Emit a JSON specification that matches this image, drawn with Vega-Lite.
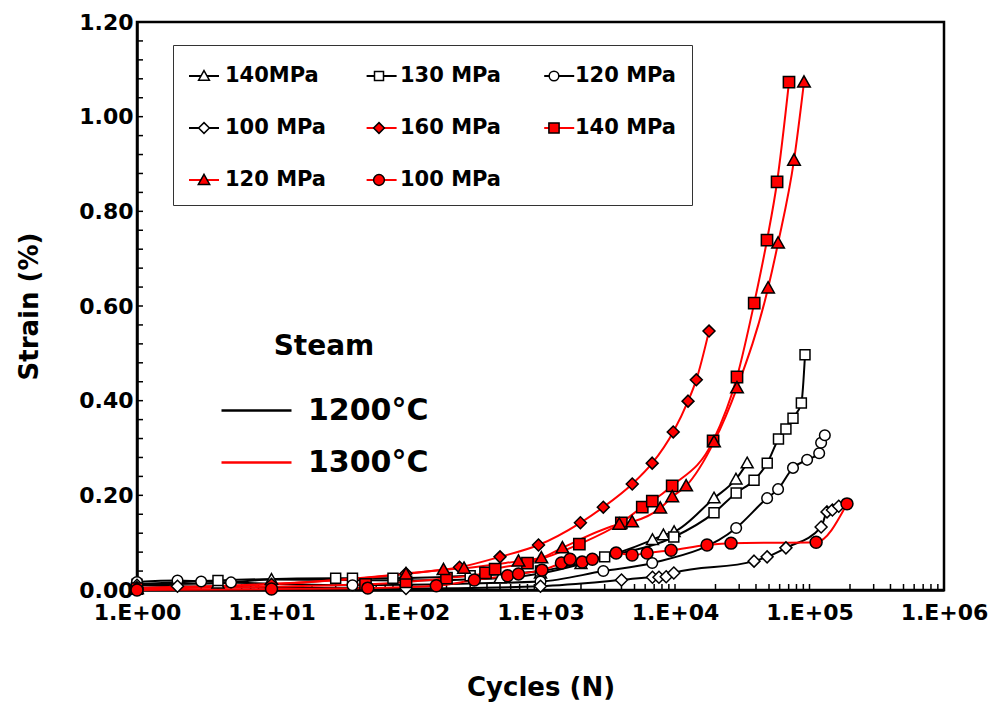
{
  "$schema": "https://vega.github.io/schema/vega-lite/v6.json",
  "width": 807,
  "height": 568,
  "autosize": {"type": "none"},
  "padding": {"left": 137, "top": 22, "right": 48, "bottom": 118},
  "background": "white",
  "config": {
    "view": {"stroke": "black", "strokeWidth": 2.5},
    "axis": {"domainColor": "black", "domainWidth": 2.5, "ticks": false, "grid": false, "labelFont": "DejaVu Sans", "labelFontWeight": "bold", "labelFontSize": 22, "labelColor": "black", "titleFont": "DejaVu Sans", "titleFontWeight": "bold", "titleFontSize": 26, "titleColor": "black", "labelOverlap": false, "labelFlush": false},
    "legend": {"labelFont": "DejaVu Sans", "labelFontWeight": "bold", "labelColor": "black", "titleFont": "DejaVu Sans", "titleFontWeight": "bold", "titleColor": "black"}
  },
  "datasets": {
    "xticks": [{"tick": 1},{"tick": 2},{"tick": 3},{"tick": 4},{"tick": 5},{"tick": 6},{"tick": 7},{"tick": 8},{"tick": 9},{"tick": 10},{"tick": 20},{"tick": 30},{"tick": 40},{"tick": 50},{"tick": 60},{"tick": 70},{"tick": 80},{"tick": 90},{"tick": 100},{"tick": 200},{"tick": 300},{"tick": 400},{"tick": 500},{"tick": 600},{"tick": 700},{"tick": 800},{"tick": 900},{"tick": 1000},{"tick": 2000},{"tick": 3000},{"tick": 4000},{"tick": 5000},{"tick": 6000},{"tick": 7000},{"tick": 8000},{"tick": 9000},{"tick": 10000},{"tick": 20000},{"tick": 30000},{"tick": 40000},{"tick": 50000},{"tick": 60000},{"tick": 70000},{"tick": 80000},{"tick": 90000},{"tick": 100000},{"tick": 200000},{"tick": 300000},{"tick": 400000},{"tick": 500000},{"tick": 600000},{"tick": 700000},{"tick": 800000},{"tick": 900000},{"tick": 1000000}],
    "yticks": [{"tick": 0},{"tick": 0.04},{"tick": 0.08},{"tick": 0.12},{"tick": 0.16},{"tick": 0.2},{"tick": 0.24},{"tick": 0.28},{"tick": 0.32},{"tick": 0.36},{"tick": 0.4},{"tick": 0.44},{"tick": 0.48},{"tick": 0.52},{"tick": 0.56},{"tick": 0.6},{"tick": 0.64},{"tick": 0.68},{"tick": 0.72},{"tick": 0.76},{"tick": 0.8},{"tick": 0.84},{"tick": 0.88},{"tick": 0.92},{"tick": 0.96},{"tick": 1},{"tick": 1.04},{"tick": 1.08},{"tick": 1.12},{"tick": 1.16},{"tick": 1.2}],
    "curves": [
    {"series": "k1", "temp": "1200°C", "cycles": 1, "strain": 0.012},
    {"series": "k1", "temp": "1200°C", "cycles": 4, "strain": 0.014},
    {"series": "k1", "temp": "1200°C", "cycles": 10, "strain": 0.022},
    {"series": "k1", "temp": "1200°C", "cycles": 100, "strain": 0.02},
    {"series": "k1", "temp": "1200°C", "cycles": 500, "strain": 0.025},
    {"series": "k1", "temp": "1200°C", "cycles": 1000, "strain": 0.035},
    {"series": "k1", "temp": "1200°C", "cycles": 2000, "strain": 0.055},
    {"series": "k1", "temp": "1200°C", "cycles": 6800, "strain": 0.106},
    {"series": "k1", "temp": "1200°C", "cycles": 8200, "strain": 0.116},
    {"series": "k1", "temp": "1200°C", "cycles": 9850, "strain": 0.123},
    {"series": "k1", "temp": "1200°C", "cycles": 19500, "strain": 0.194},
    {"series": "k1", "temp": "1200°C", "cycles": 28400, "strain": 0.234},
    {"series": "k1", "temp": "1200°C", "cycles": 34400, "strain": 0.268},
    {"series": "k2", "temp": "1200°C", "cycles": 1, "strain": 0.012},
    {"series": "k2", "temp": "1200°C", "cycles": 4, "strain": 0.02},
    {"series": "k2", "temp": "1200°C", "cycles": 30, "strain": 0.025},
    {"series": "k2", "temp": "1200°C", "cycles": 40, "strain": 0.025},
    {"series": "k2", "temp": "1200°C", "cycles": 80, "strain": 0.025},
    {"series": "k2", "temp": "1200°C", "cycles": 300, "strain": 0.03},
    {"series": "k2", "temp": "1200°C", "cycles": 1000, "strain": 0.04},
    {"series": "k2", "temp": "1200°C", "cycles": 3000, "strain": 0.07},
    {"series": "k2", "temp": "1200°C", "cycles": 9800, "strain": 0.112},
    {"series": "k2", "temp": "1200°C", "cycles": 19500, "strain": 0.163},
    {"series": "k2", "temp": "1200°C", "cycles": 28500, "strain": 0.205},
    {"series": "k2", "temp": "1200°C", "cycles": 38700, "strain": 0.232},
    {"series": "k2", "temp": "1200°C", "cycles": 48500, "strain": 0.268},
    {"series": "k2", "temp": "1200°C", "cycles": 58800, "strain": 0.319},
    {"series": "k2", "temp": "1200°C", "cycles": 66800, "strain": 0.34},
    {"series": "k2", "temp": "1200°C", "cycles": 75400, "strain": 0.363},
    {"series": "k2", "temp": "1200°C", "cycles": 87000, "strain": 0.395},
    {"series": "k2", "temp": "1200°C", "cycles": 92600, "strain": 0.497},
    {"series": "k3", "temp": "1200°C", "cycles": 1, "strain": 0.017},
    {"series": "k3", "temp": "1200°C", "cycles": 2, "strain": 0.02},
    {"series": "k3", "temp": "1200°C", "cycles": 3, "strain": 0.018},
    {"series": "k3", "temp": "1200°C", "cycles": 5, "strain": 0.016},
    {"series": "k3", "temp": "1200°C", "cycles": 40, "strain": 0.01},
    {"series": "k3", "temp": "1200°C", "cycles": 1000, "strain": 0.018},
    {"series": "k3", "temp": "1200°C", "cycles": 2930, "strain": 0.04},
    {"series": "k3", "temp": "1200°C", "cycles": 6770, "strain": 0.057},
    {"series": "k3", "temp": "1200°C", "cycles": 28500, "strain": 0.131},
    {"series": "k3", "temp": "1200°C", "cycles": 48400, "strain": 0.194},
    {"series": "k3", "temp": "1200°C", "cycles": 58400, "strain": 0.213},
    {"series": "k3", "temp": "1200°C", "cycles": 75400, "strain": 0.258},
    {"series": "k3", "temp": "1200°C", "cycles": 96000, "strain": 0.275},
    {"series": "k3", "temp": "1200°C", "cycles": 118000, "strain": 0.289},
    {"series": "k3", "temp": "1200°C", "cycles": 122000, "strain": 0.311},
    {"series": "k3", "temp": "1200°C", "cycles": 130000, "strain": 0.327},
    {"series": "k4", "temp": "1200°C", "cycles": 1, "strain": 0.01},
    {"series": "k4", "temp": "1200°C", "cycles": 2, "strain": 0.008},
    {"series": "k4", "temp": "1200°C", "cycles": 10, "strain": 0.005},
    {"series": "k4", "temp": "1200°C", "cycles": 100, "strain": 0.003},
    {"series": "k4", "temp": "1200°C", "cycles": 1000, "strain": 0.008},
    {"series": "k4", "temp": "1200°C", "cycles": 4000, "strain": 0.021},
    {"series": "k4", "temp": "1200°C", "cycles": 6800, "strain": 0.027},
    {"series": "k4", "temp": "1200°C", "cycles": 7600, "strain": 0.027},
    {"series": "k4", "temp": "1200°C", "cycles": 8600, "strain": 0.028},
    {"series": "k4", "temp": "1200°C", "cycles": 9800, "strain": 0.036},
    {"series": "k4", "temp": "1200°C", "cycles": 38700, "strain": 0.061},
    {"series": "k4", "temp": "1200°C", "cycles": 48400, "strain": 0.07},
    {"series": "k4", "temp": "1200°C", "cycles": 66800, "strain": 0.089},
    {"series": "k4", "temp": "1200°C", "cycles": 122000, "strain": 0.133},
    {"series": "k4", "temp": "1200°C", "cycles": 135000, "strain": 0.165},
    {"series": "k4", "temp": "1200°C", "cycles": 148000, "strain": 0.169},
    {"series": "k4", "temp": "1200°C", "cycles": 165000, "strain": 0.177},
    {"series": "k5", "temp": "1300°C", "cycles": 1, "strain": 0.005},
    {"series": "k5", "temp": "1300°C", "cycles": 10, "strain": 0.012},
    {"series": "k5", "temp": "1300°C", "cycles": 100, "strain": 0.035},
    {"series": "k5", "temp": "1300°C", "cycles": 250, "strain": 0.048},
    {"series": "k5", "temp": "1300°C", "cycles": 500, "strain": 0.07},
    {"series": "k5", "temp": "1300°C", "cycles": 966, "strain": 0.095},
    {"series": "k5", "temp": "1300°C", "cycles": 1980, "strain": 0.142},
    {"series": "k5", "temp": "1300°C", "cycles": 2930, "strain": 0.175},
    {"series": "k5", "temp": "1300°C", "cycles": 4810, "strain": 0.224},
    {"series": "k5", "temp": "1300°C", "cycles": 6770, "strain": 0.268},
    {"series": "k5", "temp": "1300°C", "cycles": 9700, "strain": 0.334},
    {"series": "k5", "temp": "1300°C", "cycles": 12500, "strain": 0.399},
    {"series": "k5", "temp": "1300°C", "cycles": 14400, "strain": 0.444},
    {"series": "k5", "temp": "1300°C", "cycles": 17900, "strain": 0.547},
    {"series": "k6", "temp": "1300°C", "cycles": 1, "strain": 0.003},
    {"series": "k6", "temp": "1300°C", "cycles": 50, "strain": 0.012},
    {"series": "k6", "temp": "1300°C", "cycles": 100, "strain": 0.017},
    {"series": "k6", "temp": "1300°C", "cycles": 200, "strain": 0.025},
    {"series": "k6", "temp": "1300°C", "cycles": 390, "strain": 0.036},
    {"series": "k6", "temp": "1300°C", "cycles": 460, "strain": 0.044},
    {"series": "k6", "temp": "1300°C", "cycles": 800, "strain": 0.057},
    {"series": "k6", "temp": "1300°C", "cycles": 1945, "strain": 0.097},
    {"series": "k6", "temp": "1300°C", "cycles": 3990, "strain": 0.142},
    {"series": "k6", "temp": "1300°C", "cycles": 5710, "strain": 0.175},
    {"series": "k6", "temp": "1300°C", "cycles": 6780, "strain": 0.188},
    {"series": "k6", "temp": "1300°C", "cycles": 9530, "strain": 0.22},
    {"series": "k6", "temp": "1300°C", "cycles": 19200, "strain": 0.315},
    {"series": "k6", "temp": "1300°C", "cycles": 28900, "strain": 0.45},
    {"series": "k6", "temp": "1300°C", "cycles": 38800, "strain": 0.606},
    {"series": "k6", "temp": "1300°C", "cycles": 48300, "strain": 0.739},
    {"series": "k6", "temp": "1300°C", "cycles": 57400, "strain": 0.862},
    {"series": "k6", "temp": "1300°C", "cycles": 70400, "strain": 1.073},
    {"series": "k7", "temp": "1300°C", "cycles": 1, "strain": 0.003},
    {"series": "k7", "temp": "1300°C", "cycles": 100, "strain": 0.034},
    {"series": "k7", "temp": "1300°C", "cycles": 190, "strain": 0.043},
    {"series": "k7", "temp": "1300°C", "cycles": 270, "strain": 0.046},
    {"series": "k7", "temp": "1300°C", "cycles": 686, "strain": 0.061},
    {"series": "k7", "temp": "1300°C", "cycles": 1015, "strain": 0.068},
    {"series": "k7", "temp": "1300°C", "cycles": 1455, "strain": 0.089},
    {"series": "k7", "temp": "1300°C", "cycles": 3850, "strain": 0.139},
    {"series": "k7", "temp": "1300°C", "cycles": 4800, "strain": 0.144},
    {"series": "k7", "temp": "1300°C", "cycles": 7770, "strain": 0.173},
    {"series": "k7", "temp": "1300°C", "cycles": 9540, "strain": 0.197},
    {"series": "k7", "temp": "1300°C", "cycles": 12100, "strain": 0.22},
    {"series": "k7", "temp": "1300°C", "cycles": 19500, "strain": 0.313},
    {"series": "k7", "temp": "1300°C", "cycles": 28900, "strain": 0.427},
    {"series": "k7", "temp": "1300°C", "cycles": 49200, "strain": 0.638},
    {"series": "k7", "temp": "1300°C", "cycles": 58400, "strain": 0.733},
    {"series": "k7", "temp": "1300°C", "cycles": 76700, "strain": 0.908},
    {"series": "k7", "temp": "1300°C", "cycles": 91000, "strain": 1.073},
    {"series": "k8", "temp": "1300°C", "cycles": 1, "strain": 0.0},
    {"series": "k8", "temp": "1300°C", "cycles": 10, "strain": 0.002},
    {"series": "k8", "temp": "1300°C", "cycles": 52, "strain": 0.004},
    {"series": "k8", "temp": "1300°C", "cycles": 168, "strain": 0.009},
    {"series": "k8", "temp": "1300°C", "cycles": 322, "strain": 0.021},
    {"series": "k8", "temp": "1300°C", "cycles": 569, "strain": 0.03},
    {"series": "k8", "temp": "1300°C", "cycles": 686, "strain": 0.034},
    {"series": "k8", "temp": "1300°C", "cycles": 1025, "strain": 0.042},
    {"series": "k8", "temp": "1300°C", "cycles": 1430, "strain": 0.057},
    {"series": "k8", "temp": "1300°C", "cycles": 1660, "strain": 0.065},
    {"series": "k8", "temp": "1300°C", "cycles": 2040, "strain": 0.059},
    {"series": "k8", "temp": "1300°C", "cycles": 2430, "strain": 0.065},
    {"series": "k8", "temp": "1300°C", "cycles": 3650, "strain": 0.078},
    {"series": "k8", "temp": "1300°C", "cycles": 4800, "strain": 0.074},
    {"series": "k8", "temp": "1300°C", "cycles": 6200, "strain": 0.078},
    {"series": "k8", "temp": "1300°C", "cycles": 9350, "strain": 0.084},
    {"series": "k8", "temp": "1300°C", "cycles": 17300, "strain": 0.095},
    {"series": "k8", "temp": "1300°C", "cycles": 26100, "strain": 0.099},
    {"series": "k8", "temp": "1300°C", "cycles": 112000, "strain": 0.101},
    {"series": "k8", "temp": "1300°C", "cycles": 190000, "strain": 0.182}
  ]},
  "layer": [
    {
      "data": {"name": "xticks"},
      "mark": {"type": "rule", "color": "black", "strokeWidth": 1.5, "y2Offset": -6},
      "encoding": {
        "x": {"field": "tick", "type": "quantitative", "title": "Cycles (N)",
          "scale": {"type": "log", "domain": [1, 1000000], "nice": false},
          "axis": {"values": [1,10,100,1000,10000,100000,1000000],
            "labelExpr": "'1.E+0' + round(log(datum.value)/LN10)",
            "labelPadding": 12, "titlePadding": 51}},
        "y": {"datum": 0, "type": "quantitative", "title": "Strain (%)",
          "scale": {"domain": [0, 1.2], "nice": false},
          "axis": {"values": [0,0.2,0.4,0.6,0.8,1,1.2], "format": ".2f", "labelPadding": 4, "titlePadding": 36}},
        "y2": {"datum": 0}
      }
    },
    {
      "data": {"name": "yticks"},
      "mark": {"type": "rule", "color": "black", "strokeWidth": 1.5, "x2Offset": 6},
      "encoding": {
        "y": {"field": "tick", "type": "quantitative", "title": "Strain (%)"},
        "x": {"datum": 1, "type": "quantitative", "title": "Cycles (N)"},
        "x2": {"datum": 1}
      }
    },
    {
      "data": {"name": "curves"},
      "layer": [
        {
          "mark": {"type": "line", "interpolate": "monotone", "strokeWidth": 2},
          "encoding": {
            "x": {"field": "cycles", "type": "quantitative", "title": "Cycles (N)"},
            "y": {"field": "strain", "type": "quantitative", "title": "Strain (%)"},
            "color": {"field": "temp", "type": "nominal",
              "scale": {"domain": ["1200°C", "1300°C"], "range": ["black", "#ff0000"]},
              "legend": {"title": "Steam", "orient": "none", "legendX": 83, "legendY": 311, "titleFontSize": 28, "titleAnchor": "middle", "titlePadding": 13, "labelFontSize": 30, "symbolType": "M-1,0H1", "symbolSize": 4900, "symbolStrokeWidth": 2.5, "rowPadding": -8, "labelOffset": 15, "padding": 0}},
            "detail": {"field": "series"}
          }
        },
        {
          "transform": [{"filter": "false"}],
          "mark": {"type": "line", "strokeWidth": 2},
          "encoding": {
            "x": {"field": "cycles", "type": "quantitative", "title": "Cycles (N)"},
            "y": {"field": "strain", "type": "quantitative", "title": "Strain (%)"},
            "stroke": {"field": "series", "type": "nominal",
              "scale": {"domain": ["k1","k2","k3","k4","k5","k6","k7","k8"], "range": ["black","black","black","black","#ff0000","#ff0000","#ff0000","#ff0000"]},
              "legend": {"title": null, "orient": "none", "legendX": 36, "legendY": 23, "columns": 3, "direction": "horizontal", "symbolType": "M-1,0H1", "symbolSize": 900, "symbolStrokeWidth": 2, "labelFontSize": 21, "labelOffset": 5, "columnPadding": 137.6, "rowPadding": 26, "padding": 15, "labelExpr": "''"}}
          }
        },
        {
          "mark": {"type": "point", "size": 1100, "stroke": "black", "strokeWidth": 1.5, "opacity": 1},
          "encoding": {
            "x": {"field": "cycles", "type": "quantitative", "title": "Cycles (N)"},
            "y": {"field": "strain", "type": "quantitative", "title": "Strain (%)"},
            "shape": {"field": "series", "type": "nominal",
              "scale": {"range": [
                "M0,-0.36L0.36,0.28L-0.36,0.28Z",
                "M-0.3,-0.3L0.3,-0.3L0.3,0.3L-0.3,0.3Z",
                "M-0.32,0A0.32,0.32,0,1,1,0.32,0A0.32,0.32,0,1,1,-0.32,0Z",
                "M0,-0.36L0.36,0L0,0.36L-0.36,0Z",
                "M0,-0.36L0.36,0L0,0.36L-0.36,0Z",
                "M-0.34,-0.34L0.34,-0.34L0.34,0.34L-0.34,0.34Z",
                "M0,-0.38L0.38,0.3L-0.38,0.3Z",
                "M-0.36,0A0.36,0.36,0,1,1,0.36,0A0.36,0.36,0,1,1,-0.36,0Z"]},
              "legend": {"title": null, "orient": "none", "legendX": 36, "legendY": 23, "columns": 3, "direction": "horizontal", "symbolSize": 900, "symbolStrokeColor": "black", "symbolStrokeWidth": 1.5, "symbolOpacity": 1, "labelFontSize": 21, "labelOffset": 5, "columnPadding": 36, "rowPadding": 26, "padding": 15, "strokeColor": "#333333", "labelLimit": 300,
                "labelExpr": "['140MPa','130 MPa','120 MPa','100 MPa','160 MPa','140 MPa','120 MPa','100 MPa'][indexof(['k1','k2','k3','k4','k5','k6','k7','k8'], datum.value)]",
                "encode": {"symbols": {"update": {"stroke": {"value": "black"}, "strokeWidth": {"value": 1.5}}}}}},
            "fill": {"field": "series", "type": "nominal",
              "scale": {"range": ["white","white","white","white","#ff0000","#ff0000","#ff0000","#ff0000"]},
              "legend": {"title": null, "orient": "none", "legendX": 36, "legendY": 23, "columns": 3, "direction": "horizontal", "symbolSize": 900, "symbolStrokeColor": "black", "symbolStrokeWidth": 1.5, "symbolOpacity": 1, "labelFontSize": 21, "labelOffset": 5, "columnPadding": 36, "rowPadding": 26, "padding": 15, "strokeColor": "#333333", "labelLimit": 300,
                "labelExpr": "['140MPa','130 MPa','120 MPa','100 MPa','160 MPa','140 MPa','120 MPa','100 MPa'][indexof(['k1','k2','k3','k4','k5','k6','k7','k8'], datum.value)]",
                "encode": {"symbols": {"update": {"stroke": {"value": "black"}, "strokeWidth": {"value": 1.5}}}}}}
          }
        }
      ]
    }
  ]
}
